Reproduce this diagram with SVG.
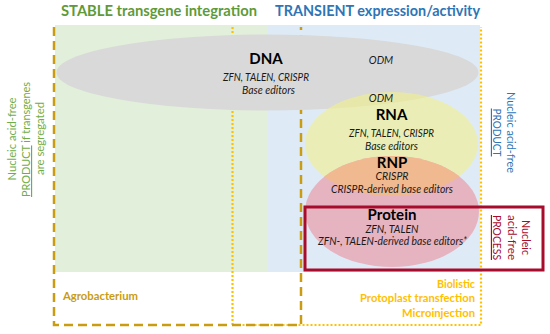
<svg xmlns="http://www.w3.org/2000/svg" width="550" height="334" viewBox="0 0 550 334">
<defs>
<style>
text{font-family:Lato,"Open Sans","Liberation Sans",sans-serif;}
.t{font-weight:bold;font-size:15px;}
.h{font-weight:bold;font-size:15px;fill:#000;text-anchor:middle;}
.i{font-style:italic;font-size:10.5px;fill:#1a1a1a;text-anchor:middle;}
.v{font-size:11.5px;text-anchor:middle;}
.m{font-weight:bold;font-size:11.5px;}
</style>
<clipPath id="rnaClip"><ellipse cx="391.5" cy="144" rx="86.5" ry="52"/></clipPath>
</defs>
<rect width="550" height="334" fill="#fff"/>
<g id="stable-bg"><rect x="55" y="25" width="213" height="247" fill="#e2efda"/></g>
<g id="transient-bg"><rect x="268" y="25" width="212" height="247" fill="#deebf7"/></g>
<g id="connectors" fill="none">
<path d="M232.5,27 V325 H481 V27" stroke="#ffc000" stroke-width="2.2" stroke-dasharray="2 2"/>
<path d="M54,27 V325 H301 V27" stroke="#c99c12" stroke-width="2.5" stroke-dasharray="9 5"/>
</g>
<g id="dna"><ellipse cx="267.5" cy="72.5" rx="211" ry="38" fill="#d9d9d9"/></g>
<g id="rna"><ellipse cx="391.5" cy="144" rx="86.5" ry="52" fill="#f2f08a" fill-opacity="0.6"/></g>
<g id="protein"><ellipse cx="392" cy="211.5" rx="87" ry="55.5" fill="#e6b4c1"/></g>
<g id="rnp"><ellipse cx="392" cy="211.5" rx="87" ry="55.5" fill="#f1b98f" clip-path="url(#rnaClip)"/></g>
<g id="process-box"><rect x="305" y="207" width="238" height="63" fill="none" stroke="#a80c2c" stroke-width="3"/></g>
<g id="titles">
<text class="t" x="61" y="16" fill="#5e9a3a" textLength="196" lengthAdjust="spacingAndGlyphs">STABLE transgene integration</text>
<text class="t" x="275" y="16" fill="#2e75b6" textLength="205" lengthAdjust="spacingAndGlyphs">TRANSIENT expression/activity</text>
</g>
<g id="dna-labels">
<text class="h" x="266" y="64">DNA</text>
<text class="i" x="266" y="81" textLength="86" lengthAdjust="spacingAndGlyphs">ZFN, TALEN, CRISPR</text>
<text class="i" x="268.5" y="94" textLength="53" lengthAdjust="spacingAndGlyphs">Base editors</text>
<text class="i" x="381" y="64">ODM</text>
</g>
<g id="rna-labels">
<text class="i" x="381" y="102">ODM</text>
<text class="h" x="391.5" y="120">RNA</text>
<text class="i" x="391.5" y="137" textLength="85" lengthAdjust="spacingAndGlyphs">ZFN, TALEN, CRISPR</text>
<text class="i" x="391.5" y="150" textLength="53" lengthAdjust="spacingAndGlyphs">Base editors</text>
</g>
<g id="rnp-labels">
<text class="h" x="392" y="168">RNP</text>
<text class="i" x="392" y="180">CRISPR</text>
<text class="i" x="392" y="193" textLength="122" lengthAdjust="spacingAndGlyphs">CRISPR-derived base editors</text>
</g>
<g id="protein-labels">
<text class="h" x="392" y="220">Protein</text>
<text class="i" x="392" y="233">ZFN, TALEN</text>
<text class="i" x="392.5" y="245" textLength="149" lengthAdjust="spacingAndGlyphs">ZFN-, TALEN-derived base editors*</text>
</g>
<g id="methods">
<text class="m" x="63" y="300" fill="#c99c12" textLength="75" lengthAdjust="spacingAndGlyphs">Agrobacterium</text>
<text class="m" x="475" y="288" fill="#ffc000" text-anchor="end" textLength="38" lengthAdjust="spacingAndGlyphs">Biolistic</text>
<text class="m" x="475" y="302" fill="#ffc000" text-anchor="end" textLength="115" lengthAdjust="spacingAndGlyphs">Protoplast transfection</text>
<text class="m" x="475" y="317" fill="#ffc000" text-anchor="end" textLength="73" lengthAdjust="spacingAndGlyphs">Microinjection</text>
</g>
<g id="left-note" fill="#70ad47">
<text class="v" x="15.5" y="139" transform="rotate(-90 15.5 139)" textLength="83" lengthAdjust="spacingAndGlyphs">Nucleic acid-free</text>
<text class="v" x="30" y="139.5" transform="rotate(-90 30 139.5)" textLength="115" lengthAdjust="spacingAndGlyphs"><tspan text-decoration="underline">PRODUCT</tspan> if transgenes</text>
<text class="v" x="43.5" y="138.5" transform="rotate(-90 43.5 138.5)" textLength="73" lengthAdjust="spacingAndGlyphs">are segregated</text>
</g>
<g id="right-note" fill="#2e75b6">
<text class="v" x="507" y="132.5" transform="rotate(90 507 132.5)" textLength="81" lengthAdjust="spacingAndGlyphs">Nucleic acid-free</text>
<text class="v" x="493" y="132.5" transform="rotate(90 493 132.5)" text-decoration="underline" textLength="48" lengthAdjust="spacingAndGlyphs">PRODUCT</text>
</g>
<g id="process-note" fill="#a80c2c">
<text class="v" x="522" y="237.5" transform="rotate(90 522 237.5)" textLength="35" lengthAdjust="spacingAndGlyphs">Nucleic</text>
<text class="v" x="507.5" y="237.5" transform="rotate(90 507.5 237.5)" textLength="45" lengthAdjust="spacingAndGlyphs">acid-free</text>
<text class="v" x="493" y="237.5" transform="rotate(90 493 237.5)" text-decoration="underline" textLength="45" lengthAdjust="spacingAndGlyphs">PROCESS</text>
</g>
</svg>
